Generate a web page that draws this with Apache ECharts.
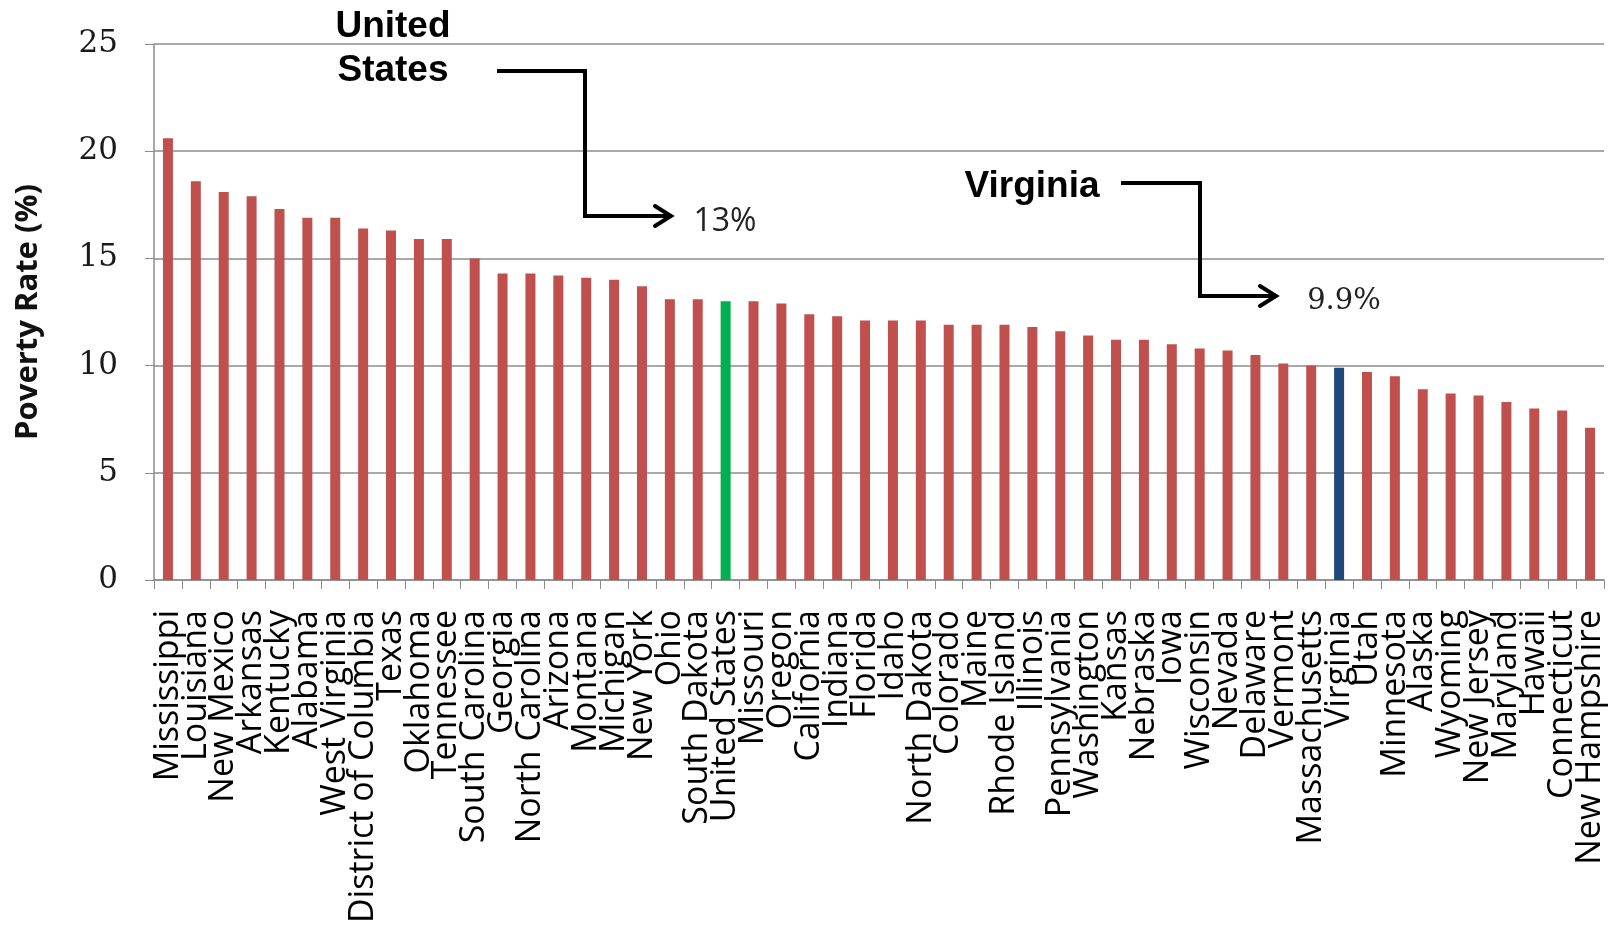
<!DOCTYPE html>
<html>
<head>
<meta charset="utf-8">
<script src="https://cdn.jsdelivr.net/npm/echarts@6/dist/echarts.min.js"></script>
<style>
html,body{margin:0;padding:0;background:#fff;}
#chart{width:1614px;height:927px;}
</style>
</head>
<body>
<div id="chart"></div>
<script>
const states = ["Mississippi","Louisiana","New Mexico","Arkansas","Kentucky","Alabama","West Virginia","District of Columbia","Texas","Oklahoma","Tennessee","South Carolina","Georgia","North Carolina","Arizona","Montana","Michigan","New York","Ohio","South Dakota","United States","Missouri","Oregon","California","Indiana","Florida","Idaho","North Dakota","Colorado","Maine","Rhode Island","Illinois","Pennsylvania","Washington","Kansas","Nebraska","Iowa","Wisconsin","Nevada","Delaware","Vermont","Massachusetts","Virginia","Utah","Minnesota","Alaska","Wyoming","New Jersey","Maryland","Hawaii","Connecticut","New Hampshire"];
const povertyRate = [20.6,18.6,18.1,17.9,17.3,16.9,16.9,16.4,16.3,15.9,15.9,15.0,14.3,14.3,14.2,14.1,14.0,13.7,13.1,13.1,13.0,13.0,12.9,12.4,12.3,12.1,12.1,12.1,11.9,11.9,11.9,11.8,11.6,11.4,11.2,11.2,11.0,10.8,10.7,10.5,10.1,10.0,9.9,9.7,9.5,8.9,8.7,8.6,8.3,8.0,7.9,7.1];
const yTicks = [0,5,10,15,20,25];
const highlightColors = {"United States":"#00B050","Virginia":"#1F497D"};
const baseColor = "#C0504D";

const chart = echarts.init(document.getElementById('chart'));
const data = povertyRate.map((v,i)=>({value:v,itemStyle:{color:highlightColors[states[i]]||baseColor}}));

function arrowShapes(pts){
  const tip = pts[pts.length-1];
  return [
    {type:'polyline',shape:{points:pts},style:{stroke:'#000',lineWidth:4,fill:null},z:10},
    {type:'polyline',shape:{points:[[tip[0]-16,tip[1]-10],[tip[0],tip[1]],[tip[0]-16,tip[1]+10]]},style:{stroke:'#000',lineWidth:4,fill:null,lineCap:'round'},z:10}
  ];
}

chart.setOption({
  animation:false,
  backgroundColor:'#fff',
  grid:{left:154,right:10,top:44,bottom:347},
  xAxis:{
    type:'category',
    data:states,
    axisLine:{lineStyle:{color:'#8c8c8c',width:1.5}},
    axisTick:{show:true,length:9,lineStyle:{color:'#8c8c8c'}},
    axisLabel:{interval:0,rotate:90,margin:30,fontFamily:'Open Sans',fontSize:34,color:'#000'}
  },
  yAxis:{
    type:'value',min:0,max:25,interval:5,
    name:'Poverty Rate (%)',nameLocation:'middle',nameGap:110,nameRotate:90,
    nameTextStyle:{fontFamily:'Open Sans',fontWeight:'bold',fontSize:31,color:'#111'},
    axisLine:{show:true,lineStyle:{color:'#8c8c8c',width:1.5}},
    axisTick:{show:true,length:9,lineStyle:{color:'#8c8c8c'}},
    splitLine:{lineStyle:{color:'#8c8c8c',width:1.5}},
    axisLabel:{margin:36,fontFamily:'DejaVu Serif',fontSize:31,color:'#1a1a1a',
      formatter:v=>yTicks.includes(v)?String(v):''}
  },
  series:[{type:'bar',data:data,barWidth:10}],
  graphic:[
    {type:'text',x:393,y:27,style:{text:'United',font:'bold 37px "Liberation Sans"',fill:'#000',align:'center',verticalAlign:'middle'},z:10},
    {type:'text',x:393,y:71,style:{text:'States',font:'bold 37px "Liberation Sans"',fill:'#000',align:'center',verticalAlign:'middle'},z:10},
    ...arrowShapes([[497,71],[585,71],[585,216],[671,216]]),
    {type:'text',x:725,y:222,style:{text:'13%',font:'32px "Open Sans"',fill:'#222',align:'center',verticalAlign:'middle'},z:10},
    {type:'text',x:1032,y:187,style:{text:'Virginia',font:'bold 37px "Liberation Sans"',fill:'#000',align:'center',verticalAlign:'middle'},z:10},
    ...arrowShapes([[1121,183],[1200,183],[1200,296],[1276,296]]),
    {type:'text',x:1344,y:301,style:{text:'9.9%',font:'29px "DejaVu Serif"',fill:'#222',align:'center',verticalAlign:'middle'},z:10}
  ]
});
</script>
</body>
</html>
